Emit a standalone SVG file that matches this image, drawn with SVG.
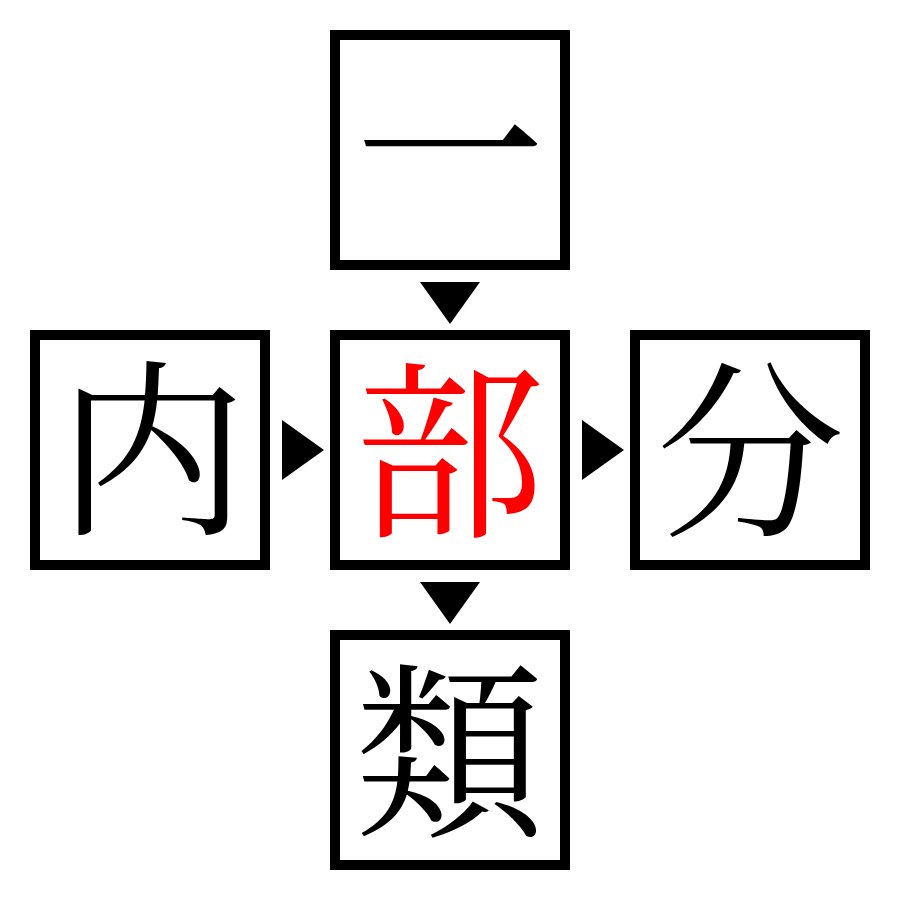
<svg xmlns="http://www.w3.org/2000/svg" width="900" height="900" viewBox="0 0 900 900">
<style>
.box{fill:#fff;stroke:#000;stroke-width:10}
.ch{font-family:"Noto Serif CJK JP","Liberation Serif","Noto Sans CJK JP",serif;font-size:190px;text-anchor:middle;fill:#000}
.red{fill:#f00}
.arr{fill:#000}
</style>
<rect width="900" height="900" fill="#fff"/>
<g id="node-top"><rect class="box" x="335" y="35" width="230" height="230"/><text class="ch" x="450" y="222">一</text></g>
<g id="node-left"><rect class="box" x="35" y="335" width="230" height="230"/><text class="ch" x="152" y="520">内</text></g>
<g id="node-center"><rect class="box" x="335" y="335" width="230" height="230"/><text class="ch red" x="450" y="522">部</text></g>
<g id="node-right"><rect class="box" x="635" y="335" width="230" height="230"/><text class="ch" x="750" y="522">分</text></g>
<g id="node-bottom"><rect class="box" x="335" y="635" width="230" height="230"/><text class="ch" x="450" y="822">類</text></g>
<g id="connectors">
<polygon class="arr" points="420,282 480,282 450,324"/>
<polygon class="arr" points="282,420 282,480 324,450"/>
<polygon class="arr" points="582,420 582,480 624,450"/>
<polygon class="arr" points="420,582 480,582 450,624"/>
</g>
</svg>
